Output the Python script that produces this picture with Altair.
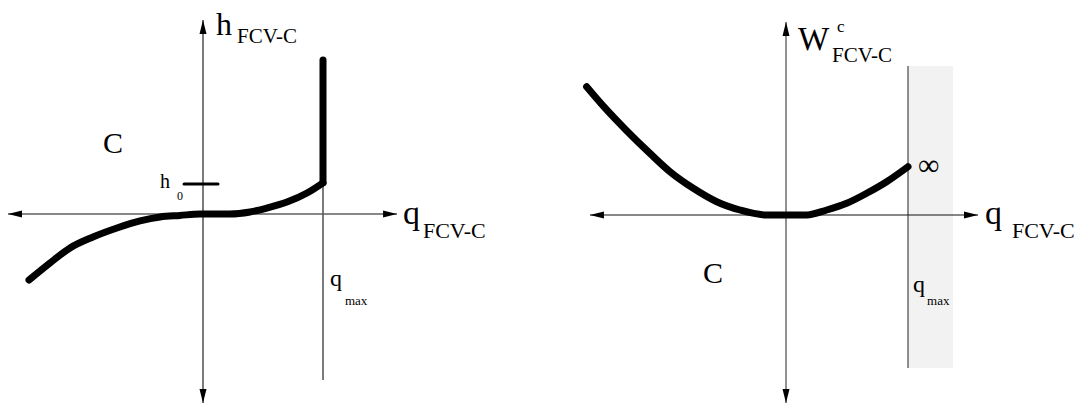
import altair as alt
import pandas as pd

FONT = "Liberation Serif"

# ---------------- left panel: head h_FCV-C against flow q_FCV-C ----------------
h_q = [-1.45, -1.275, -1.108, -0.917, -0.717, -0.525, -0.358, -0.192, -0.025,
       0.225, 0.392, 0.533, 0.70, 0.867, 1.0]
h_val = [-0.55, -0.408, -0.283, -0.192, -0.117, -0.058, -0.025, -0.012, 0.0,
         0.0, 0.017, 0.05, 0.10, 0.175, 0.26]
Q_MAX = 1.0
H0 = 0.25
H_TOP = 1.283          # vertical branch of the head curve at q_max
h0_tick = [-0.158, 0.125]

# ---------------- right panel: cost W^c_FCV-C against flow q_FCV-C ----------------
w_q = [-1.634, -1.497, -1.306, -1.115, -0.951, -0.760, -0.568, -0.377, -0.158,
       0.170, 0.334, 0.497, 0.661, 0.825, 1.0]
w_val = [1.051, 0.892, 0.691, 0.505, 0.355, 0.219, 0.109, 0.041, 0.0,
         0.0, 0.041, 0.096, 0.178, 0.273, 0.396]
forbidden_q = [1.0, 1.369]
forbidden_w = [-1.254, 1.221]

# arrow-head glyphs (tip at the anchor point)
ARROW = {
    "right": "M0,0L-2,-0.5L-2,0.5Z",
    "left": "M0,0L2,-0.5L2,0.5Z",
    "up": "M0,0L-0.5,2L0.5,2Z",
    "down": "M0,0L-0.5,-2L0.5,-2Z",
}

W, H = 540, 405


def panel(xdom, ydom, xaxis, yaxis, qline, curve_q, curve_v, labels,
          vcolor, vwidth, extra_rules=None, shade=None):
    xs = alt.Scale(domain=xdom, nice=False, zero=False)
    ys = alt.Scale(domain=ydom, nice=False, zero=False)
    X = lambda f: alt.X(f, scale=xs, axis=None)
    Y = lambda f: alt.Y(f, scale=ys, axis=None)

    layers = []
    if shade is not None:
        sd = pd.DataFrame([{"x": shade[0][0], "x2": shade[0][1],
                            "y": shade[1][0], "y2": shade[1][1]}])
        layers.append(alt.Chart(sd).mark_rect(fill="#f2f2f2").encode(
            x=X("x:Q"), x2="x2", y=Y("y:Q"), y2="y2"))

    rules = pd.DataFrame([
        {"x": xaxis[0], "x2": xaxis[1], "y": 0.0, "y2": 0.0, "w": 1.0, "c": "#111111"},
        {"x": 0.0, "x2": 0.0, "y": yaxis[0], "y2": yaxis[1], "w": vwidth, "c": vcolor},
        {"x": qline[0], "x2": qline[0], "y": qline[1], "y2": qline[2], "w": vwidth, "c": vcolor},
    ])
    layers.append(alt.Chart(rules).mark_rule().encode(
        x=X("x:Q"), x2="x2", y=Y("y:Q"), y2="y2",
        color=alt.Color("c:N", scale=None),
        strokeWidth=alt.StrokeWidth("w:Q", scale=None)))

    heads = pd.DataFrame([
        {"x": xaxis[1], "y": 0.0, "s": ARROW["right"]},
        {"x": xaxis[0], "y": 0.0, "s": ARROW["left"]},
        {"x": 0.0, "y": yaxis[1], "s": ARROW["up"]},
        {"x": 0.0, "y": yaxis[0], "s": ARROW["down"]},
    ])
    layers.append(alt.Chart(heads).mark_point(
        filled=True, size=196, color="black", opacity=1, strokeWidth=0).encode(
        x=X("x:Q"), y=Y("y:Q"), shape=alt.Shape("s:N", scale=None)))

    cd = pd.DataFrame({"q": curve_q, "v": curve_v, "i": range(len(curve_q))})
    layers.append(alt.Chart(cd).mark_line(
        color="black", strokeWidth=7, strokeCap="round", strokeJoin="round",
        interpolate="monotone").encode(
        x=X("q:Q"), y=Y("v:Q"), order="i:Q"))

    if extra_rules:
        ed = pd.DataFrame(extra_rules)
        layers.append(alt.Chart(ed).mark_rule(color="black", strokeCap="round").encode(
            x=X("x:Q"), x2="x2", y=Y("y:Q"), y2="y2",
            strokeWidth=alt.StrokeWidth("w:Q", scale=None)))

    ld = pd.DataFrame(labels, columns=["t", "x", "y", "fs"])
    layers.append(alt.Chart(ld).mark_text(
        align="left", baseline="alphabetic", font=FONT, color="black").encode(
        x=X("x:Q"), y=Y("y:Q"), text="t:N",
        size=alt.Size("fs:Q", scale=None)))

    return alt.layer(*layers).properties(width=W, height=H)


left_labels = [
    ("h", 0.108, 1.492, 32),
    ("FCV-C", 0.283, 1.425, 21),
    ("C", -0.833, 0.508, 30),
    ("h", -0.358, 0.217, 20),
    ("0", -0.217, 0.117, 12),
    ("q", 1.058, -0.60, 24),
    ("max", 1.183, -0.758, 13),
    ("q", 1.667, -0.083, 34),
    ("FCV-C", 1.833, -0.20, 22),
]

right_labels = [
    ("W", 0.098, 1.352, 33),
    ("c", 0.418, 1.50, 17),
    ("FCV-C", 0.377, 1.254, 21),
    ("\u221e", 1.082, 0.33, 30),
    ("C", -0.68, -0.557, 30),
    ("q", 1.041, -0.631, 24),
    ("max", 1.156, -0.738, 13),
    ("q", 1.631, -0.074, 34),
    ("FCV-C", 1.852, -0.189, 22),
]

left = panel(
    xdom=[-203 / 120, 337 / 120], ydom=[-191 / 120, 214 / 120],
    xaxis=[-1.625, 1.617], yaxis=[-1.575, 1.617],
    qline=[Q_MAX, H0, -1.383],
    curve_q=h_q, curve_v=h_val, labels=left_labels,
    vcolor="#5a5a5a", vwidth=1.6,
    extra_rules=[
        {"x": h0_tick[0], "x2": h0_tick[1], "y": H0, "y2": H0, "w": 3.0},
        {"x": Q_MAX, "x2": Q_MAX, "y": h_val[-1], "y2": H_TOP, "w": 7.0},
    ],
)

right = panel(
    xdom=[-246 / 122, 294 / 122], ydom=[-190 / 122, 215 / 122],
    xaxis=[-1.607, 1.574], yaxis=[-1.541, 1.582],
    qline=[Q_MAX, forbidden_w[1], forbidden_w[0]],
    curve_q=w_q, curve_v=w_val, labels=right_labels,
    vcolor="#222222", vwidth=1.0,
    shade=(forbidden_q, forbidden_w),
)

chart = alt.hconcat(left, right, spacing=0).properties(
    padding=0, background="white"
).configure_view(stroke=None)

chart.save("out.html", embed_options={"renderer": "svg", "actions": False})
